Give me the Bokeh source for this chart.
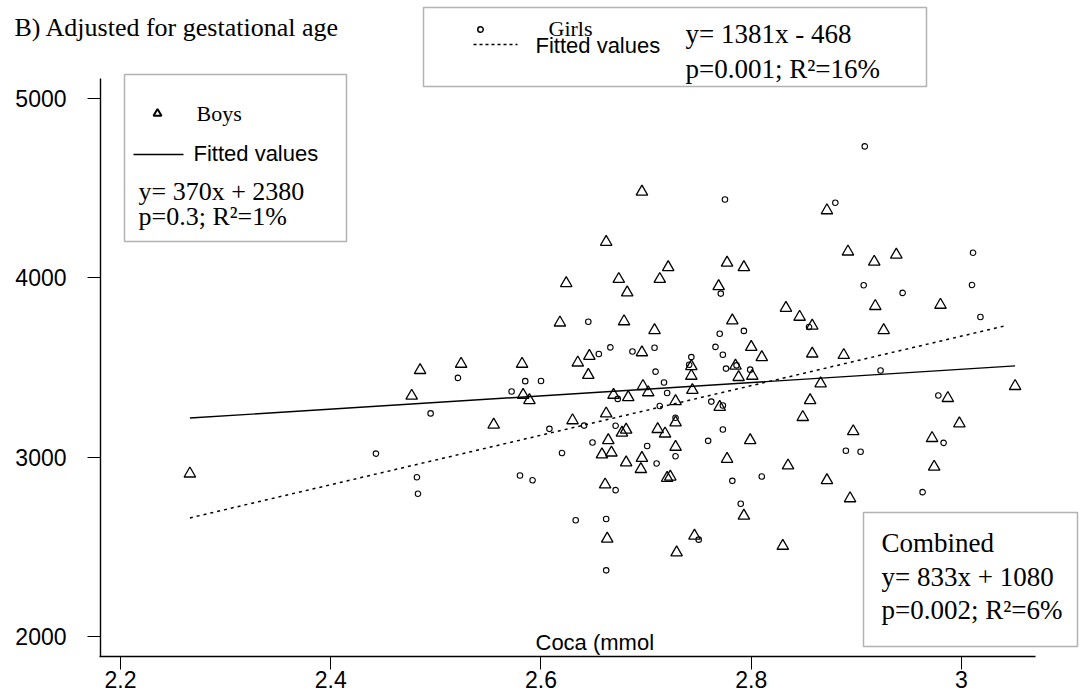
from bokeh.plotting import figure
from bokeh.models import Range1d, FixedTicker, Label, BoxAnnotation
from bokeh.embed import file_html
from bokeh.resources import INLINE

# ---- data -------------------------------------------------------------
boys_x = [2.266, 2.477, 2.485, 2.524, 2.555, 2.582, 2.583, 2.589, 2.618, 2.624,
          2.630, 2.635, 2.646, 2.645, 2.662, 2.662, 2.658, 2.661, 2.664, 2.667,
          2.663, 2.669, 2.674, 2.679, 2.682, 2.677, 2.681, 2.683, 2.681, 2.696,
          2.696, 2.697, 2.702, 2.696, 2.695, 2.708, 2.713, 2.721, 2.711, 2.718,
          2.720, 2.723, 2.728, 2.728, 2.728, 2.729, 2.743, 2.743, 2.744, 2.746,
          2.769, 2.770, 2.777, 2.782, 2.785, 2.788, 2.777, 2.793, 2.800, 2.801,
          2.810, 2.799, 2.793, 2.833, 2.835, 2.830, 2.846, 2.858, 2.858, 2.856,
          2.849, 2.866, 2.872, 2.872, 2.892, 2.888, 2.897, 2.894, 2.917, 2.918,
          2.926, 2.938, 2.980, 2.987, 2.972, 2.998, 2.974, 3.051]
boys_y = [2908, 3342, 3485, 3520, 3181, 3520, 3347, 3317, 3750, 3970,
          3205, 3527, 3564, 3458, 4200, 3243, 3015, 2847, 3094, 3025,
          2545, 3347, 3993, 3757, 3918, 3136, 3153, 3334, 2970, 4480,
          3584, 3396, 3361, 2995, 2933, 3708, 3993, 4059, 3156, 3131,
          2884, 2891, 3193, 3312, 3057, 2468, 3507, 3453, 3374, 2562,
          3953, 3280, 4084, 3762, 3510, 3446, 2990, 4059, 3614, 3453,
          3557, 3094, 2673, 3832, 2953, 2505, 3782, 3733, 3577, 3317,
          3223, 3411, 4376, 2871, 4146, 3569, 3144, 2770, 4089, 3842,
          3708, 4129, 3849, 3329, 3106, 3188, 2946, 3396]

girls_x = [2.443, 2.482, 2.483, 2.495, 2.521, 2.572, 2.585, 2.600, 2.580, 2.592,
           2.608, 2.620, 2.633, 2.641, 2.645, 2.649, 2.655, 2.662, 2.662, 2.666,
           2.671, 2.671, 2.673, 2.687, 2.701, 2.710, 2.708, 2.709, 2.717, 2.720,
           2.713, 2.728, 2.728, 2.741, 2.743, 2.750, 2.759, 2.762, 2.766, 2.770,
           2.771, 2.775, 2.773, 2.773, 2.773, 2.776, 2.782, 2.790, 2.793, 2.799,
           2.810, 2.855, 2.880, 2.890, 2.904, 2.908, 2.907, 2.923, 2.944, 2.963,
           2.978, 2.983, 3.011, 3.010, 3.018, 2.786]
girls_y = [3020, 2888, 2796, 3244, 3442, 3366, 3424, 3425, 2898, 2871,
           3158, 3023, 2648, 3176, 3755, 3082, 3575, 2655, 2369, 3612,
           3175, 2816, 3325, 3589, 3062, 2965, 3610, 3477, 3416, 3358,
           3285, 3220, 3005, 3515, 3558, 2540, 3091, 3310, 3615, 3688,
           3912, 4437, 3571, 3288, 3154, 3494, 2868, 2740, 3704, 3488,
           2892, 3726, 4419, 3036, 3030, 4733, 3959, 3483, 3916, 2805,
           3344, 3080, 4140, 3960, 3782, 3512]

# fitted lines: slope, intercept and x span of each fit
boys_fit = (370, 2380)
boys_fit_span = (2.266, 3.051)
girls_fit = (1381, -468)
girls_fit_span = (2.266, 3.040)

x_ticks = [2.2, 2.4, 2.6, 2.8, 3.0]
x_tick_labels = ["2.2", "2.4", "2.6", "2.8", "3"]
y_ticks = [2000, 3000, 4000, 5000]

title_text = "B) Adjusted for gestational age"
x_title = "Coca (mmol"
boys_lines = ["y= 370x + 2380", "p=0.3; R\u00b2=1%"]
girls_lines = ["y= 1381x - 468", "p=0.001; R\u00b2=16%"]
combined_lines = ["Combined", "y= 833x + 1080", "p=0.002; R\u00b2=6%"]

# ---- layout -----------------------------------------------------------
# The plotting frame fills the whole canvas; the two axes are pinned at
# fixed data locations so that the key boxes and the heading can sit
# anywhere on the page.
W, H = 1080, 697
XR = (2.08585, 3.11320)
YR = (1659.9, 5546.5)
X_AXIS_AT = 1888.5     # y value where the x axis runs
Y_AXIS_AT = 2.1810     # x value where the y axis runs

SERIF = "Liberation Serif"
SANS = "Liberation Sans"

p = figure(width=W, height=H, output_backend="svg", toolbar_location=None,
           x_range=Range1d(*XR), y_range=Range1d(*YR),
           min_border=0, min_border_left=0, min_border_right=0,
           min_border_top=0, min_border_bottom=0,
           background_fill_color="white", border_fill_color="white")
p.outline_line_color = None
p.grid.visible = False


def dx(px):
    return XR[0] + px * (XR[1] - XR[0]) / W


def dy(py):
    return YR[0] + (H - py) * (YR[1] - YR[0]) / H


for ax in (p.xaxis[0], p.yaxis[0]):
    ax.axis_line_color = "black"
    ax.axis_line_width = 1.4
    ax.major_tick_line_color = "black"
    ax.major_tick_line_width = 1
    ax.major_tick_in = 0
    ax.major_tick_out = 13
    ax.minor_tick_line_color = None
    ax.major_label_text_font = SANS
    ax.major_label_text_font_size = "23px"
    ax.major_label_text_color = "black"

p.xaxis.ticker = FixedTicker(ticks=x_ticks)
p.xaxis.major_label_overrides = dict(zip(x_ticks, x_tick_labels))
p.xaxis.major_label_standoff = 1
p.xaxis.bounds = (2.18, 3.07)
p.xaxis.fixed_location = X_AXIS_AT
p.yaxis.ticker = FixedTicker(ticks=y_ticks)
p.yaxis.major_label_standoff = 21
p.yaxis.bounds = (1888.5, 5111.5)
p.yaxis.fixed_location = Y_AXIS_AT

# ---- fitted lines -----------------------------------------------------
bx = list(boys_fit_span)
p.line(bx, [boys_fit[0] * v + boys_fit[1] for v in bx], line_color="black",
       line_width=1.4)
gx = list(girls_fit_span)
p.line(gx, [girls_fit[0] * v + girls_fit[1] for v in gx], line_color="black",
       line_width=1.5, line_dash="3 4")

# ---- points -----------------------------------------------------------
p.scatter(boys_x, boys_y, marker="triangle", size=11.5, fill_color=None,
          line_color="black", line_width=1.3)
p.scatter(girls_x, girls_y, marker="circle", size=5.5, fill_color=None,
          line_color="black", line_width=1.1)


# ---- key boxes ----------------------------------------------------------
def box(l, t, r, b):
    p.add_layout(BoxAnnotation(left=dx(l), right=dx(r), top=dy(t), bottom=dy(b),
                               fill_alpha=0, fill_color=None,
                               line_color="black", line_width=1.5))


def put(text, px, py, size, font):
    p.add_layout(Label(x=px, y=H - py, x_units="screen", y_units="screen",
                       text=text, text_font=font, text_font_size=size,
                       text_color="black", text_align="left",
                       text_baseline="middle"))


box(124, 74, 346, 241)
box(423, 7, 926, 86)
box(863, 512, 1077, 646)

# boys key
p.scatter([dx(157)], [dy(113)], marker="triangle", size=8, fill_color=None,
          line_color="black", line_width=2)
put("Boys", 196, 113, "22px", SERIF)
p.line([dx(133), dx(183)], [dy(154)] * 2, line_color="black", line_width=1.4)
put("Fitted values", 193, 153, "22px", SANS)
put(boys_lines[0], 138, 191, "26px", SERIF)
put(boys_lines[1], 138, 216, "26px", SERIF)

# girls key
p.scatter([dx(480)], [dy(29)], marker="circle", size=5.5, fill_color=None,
          line_color="black", line_width=1.5)
put("Girls", 548, 28, "22px", SERIF)
p.line([dx(473), dx(517)], [dy(44)] * 2, line_color="black", line_width=1.5,
       line_dash="3 3")
put("Fitted values", 535, 45, "22px", SANS)
put(girls_lines[0], 685, 33, "27px", SERIF)
put(girls_lines[1], 685, 68, "27px", SERIF)

# combined
put(combined_lines[0], 881, 542, "27px", SERIF)
put(combined_lines[1], 881, 576, "27px", SERIF)
put(combined_lines[2], 881, 609, "27px", SERIF)

# heading and axis title
put(title_text, 14, 27, "26px", SERIF)
put(x_title, 535, 642, "22px", SANS)

open("out.html", "w").write(file_html(p, INLINE))
